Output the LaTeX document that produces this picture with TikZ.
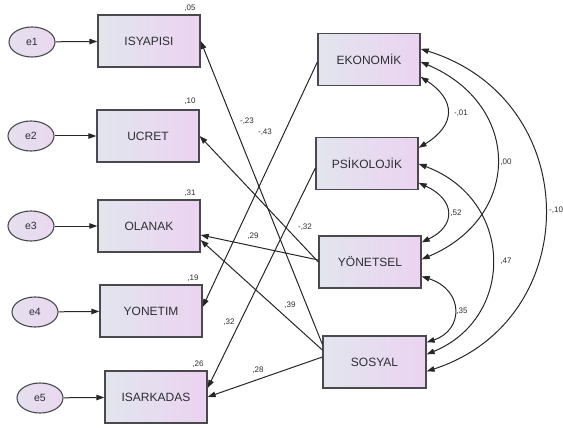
\documentclass[tikz,border=0pt]{standalone}
\usepackage{fontspec}
\setmainfont{Liberation Sans}
\usetikzlibrary{arrows.meta,shapes.geometric}
\definecolor{bxl}{HTML}{E2E5EE}
\definecolor{bxr}{HTML}{EBD3F1}
\definecolor{elc}{HTML}{E9D8EF}
\definecolor{edge}{HTML}{4A4A4E}
\definecolor{txt}{HTML}{2E2E33}
\tikzset{
  obs/.style={draw=edge, line width=1.3pt, left color=bxl, right color=bxr,
    minimum width=102pt, minimum height=52pt, inner sep=0pt,
    font=\fontsize{12}{13}\selectfont, text=txt},
  err/.style={draw=edge, line width=1.1pt, ellipse, left color=bxl!60!elc, right color=elc,
    minimum width=46pt, minimum height=30pt, inner sep=0pt,
    font=\fontsize{10.5}{11}\selectfont, text=txt},
  lab/.style={font=\fontsize{8}{9}\selectfont, text=txt, inner sep=0pt},
  arr/.style={draw=black!85, line width=1pt, -{Triangle[length=8pt,width=5.5pt]}},
  cov/.style={draw=black!85, line width=1pt, {Triangle[length=8pt,width=5.5pt]}-{Triangle[length=8pt,width=5.5pt]}},
}
\begin{document}
\begin{tikzpicture}[x=1pt,y=-1pt]
\useasboundingbox (0,0) rectangle (563,428);
% observed left
\node[obs] (isy) at (149,41) {ISYAPISI};
\node[obs] (ucr) at (148,136) {UCRET};
\node[obs] (ola) at (149,226) {OLANAK};
\node[obs] (yon) at (151,311) {YONETIM};
\node[obs] (isa) at (156,397) {ISARKADAS};
% right
\node[obs] (eko) at (369,59.5) {EKONOMİK};
\node[obs] (psi) at (367,163.5) {PSİKOLOJİK};
\node[obs] (yns) at (370,262) {YÖNETSEL};
\node[obs, minimum width=103pt] (sos) at (374.5,362) {SOSYAL};
% errors
\node[err] (e1) at (32,42) {e1};
\node[err] (e2) at (31,136) {e2};
\node[err] (e3) at (31,226) {e3};
\node[err] (e4) at (35,312) {e4};
\node[err] (e5) at (40,398) {e5};
\draw[arr] (e1) -- (isy);
\draw[arr] (e2) -- (ucr);
\draw[arr] (e3) -- (ola);
\draw[arr] (e4) -- (yon);
\draw[arr] (e5) -- (isa);
% R2
\node[lab] (r1) at (190,8) {,05};
\node[lab] (r2) at (190,101) {,10};
\node[lab] (r3) at (190,193) {,31};
\node[lab] (r4) at (193,278) {,19};
\node[lab] (r5) at (198,364) {,26};
% regression paths
\draw[arr] ([yshift=-9pt]sos.north west) -- (isy.east);
\draw[arr] ([yshift=-2.5pt]eko.west) -- ([yshift=4pt]yon.east);
\draw[arr] (yns.west) -- (ucr.east);
\draw[arr] ([yshift=2pt]yns.west) -- ([yshift=-9pt]ola.east);
\draw[arr] ([yshift=12pt]sos.west) -- ([yshift=-14pt]ola.east);
\draw[arr] ([yshift=-4.5pt]psi.west) -- ([yshift=9pt]isa.east);
\draw[arr] ([yshift=5pt]sos.west) -- (isa.east);
\node[lab] (l1) at (247,121) {-,23};
\node[lab] (l2) at (265,132) {-,43};
\node[lab] (l3) at (305,227) {-,32};
\node[lab] (l4) at (253,236) {,29};
\node[lab] (l5) at (290,305) {,39};
\node[lab] (l6) at (229,322) {,32};
\node[lab] (l7) at (258,370) {,28};
% covariances
\draw[cov] ([yshift=-44pt]eko.north east) .. controls (456,100) and (456,125) .. ([yshift=-11pt]psi.north east);
\draw[cov] ([yshift=-29pt]eko.north east) .. controls (522,105) and (522,217) .. ([yshift=-24pt]yns.north east);
\draw[cov] ([yshift=-16pt]eko.north east) .. controls (585,100) and (585,320) .. ([yshift=-36pt]sos.north east);
\draw[cov] ([yshift=-46pt]psi.north east) .. controls (456,200) and (456,226) .. ([yshift=-7pt]yns.north east);
\draw[cov] ([yshift=-27pt]psi.north east) .. controls (515,200) and (515,318) .. ([yshift=-19pt]sos.north east);
\draw[cov] ([yshift=-41pt]yns.north east) .. controls (464,290) and (464,330) .. ([yshift=-7pt]sos.north east);
\node[lab] (c1) at (461,113) {-,01};
\node[lab] (c2) at (506,162) {,00};
\node[lab, anchor=west] (c3) at (549,210) {-,10};
\node[lab] (c4) at (456,213) {,52};
\node[lab] (c5) at (506,261) {,47};
\node[lab] (c6) at (462,311) {,35};
\end{tikzpicture}
\end{document}
